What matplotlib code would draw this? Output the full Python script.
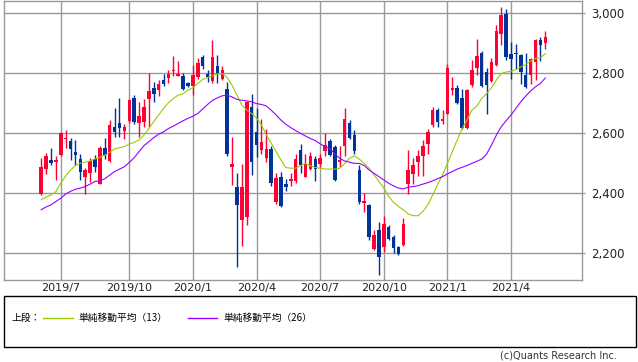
import numpy as np
import pandas as pd
import matplotlib
matplotlib.use("Agg")
import matplotlib.pyplot as plt
from matplotlib.patches import Rectangle
from matplotlib.lines import Line2D

# weekly candles
weeks = pd.date_range("2019-06-03", periods=104, freq="W-MON")

opens = [2398, 2481, 2510, 2505, 2527, 2580, 2573, 2537, 2514, 2455, 2468, 2513, 2432, 2550, 2507,
         2621, 2635, 2608, 2641, 2718, 2632, 2636, 2712, 2751, 2743, 2776, 2782, 2807, 2790, 2789,
         2765, 2756, 2787, 2852, 2796, 2773, 2824, 2780, 2745, 2488, 2420, 2309, 2319, 2685, 2603,
         2544, 2518, 2547, 2369, 2453, 2431, 2441, 2439, 2544, 2455, 2481, 2514, 2497, 2541, 2573,
         2555, 2505, 2558, 2634, 2593, 2477, 2367, 2361, 2214, 2276, 2221, 2289, 2254, 2222, 2227,
         2431, 2463, 2502, 2522, 2564, 2627, 2676, 2641, 2665, 2743, 2751, 2715, 2618, 2759, 2818,
         2866, 2803, 2773, 2825, 2930, 2997, 2864, 2867, 2859, 2792, 2792, 2836, 2908, 2899]
highs = [2518, 2533, 2550, 2525, 2604, 2610, 2585, 2577, 2529, 2483, 2516, 2527, 2558, 2585, 2643,
         2682, 2718, 2630, 2713, 2725, 2704, 2712, 2800, 2770, 2776, 2796, 2809, 2855, 2839, 2800,
         2770, 2825, 2851, 2861, 2811, 2910, 2859, 2824, 2769, 2588, 2467, 2497, 2708, 2731, 2682,
         2646, 2612, 2558, 2466, 2470, 2448, 2468, 2530, 2564, 2530, 2538, 2525, 2530, 2599, 2580,
         2560, 2557, 2684, 2643, 2610, 2492, 2402, 2365, 2278, 2303, 2325, 2293, 2262, 2225, 2317,
         2544, 2518, 2544, 2577, 2613, 2685, 2682, 2676, 2829, 2785, 2759, 2748, 2748, 2844, 2914,
         2872, 2818, 2851, 2958, 3021, 3013, 2903, 2897, 2864, 2867, 2851, 2914, 2919, 2938]
lows = [2394, 2464, 2492, 2444, 2525, 2549, 2510, 2492, 2444, 2398, 2438, 2470, 2430, 2514, 2505,
        2586, 2586, 2579, 2632, 2630, 2588, 2621, 2621, 2704, 2724, 2756, 2765, 2789, 2789, 2743,
        2754, 2726, 2780, 2812, 2770, 2767, 2767, 2776, 2525, 2428, 2154, 2225, 2293, 2459, 2519,
        2530, 2502, 2425, 2365, 2354, 2408, 2425, 2435, 2468, 2453, 2477, 2439, 2486, 2522, 2524,
        2441, 2488, 2522, 2579, 2530, 2365, 2336, 2243, 2210, 2127, 2203, 2243, 2201, 2195, 2223,
        2397, 2431, 2457, 2457, 2530, 2621, 2621, 2629, 2665, 2726, 2696, 2615, 2615, 2754, 2792,
        2754, 2663, 2770, 2822, 2892, 2842, 2779, 2814, 2762, 2751, 2762, 2778, 2840, 2881]
closes = [2488, 2525, 2500, 2510, 2601, 2585, 2548, 2528, 2470, 2477, 2507, 2488, 2550, 2527, 2627,
          2604, 2618, 2619, 2709, 2638, 2656, 2685, 2740, 2729, 2762, 2762, 2796, 2810, 2796, 2747,
          2756, 2792, 2833, 2823, 2785, 2852, 2799, 2811, 2530, 2497, 2359, 2420, 2704, 2504, 2561,
          2569, 2547, 2435, 2450, 2356, 2422, 2448, 2514, 2492, 2497, 2524, 2480, 2518, 2560, 2527,
          2444, 2510, 2646, 2585, 2541, 2372, 2375, 2253, 2262, 2188, 2297, 2247, 2218, 2197, 2298,
          2477, 2494, 2524, 2558, 2602, 2676, 2638, 2646, 2818, 2751, 2701, 2618, 2743, 2809, 2855,
          2757, 2759, 2835, 2938, 2994, 2853, 2846, 2864, 2803, 2754, 2848, 2908, 2892, 2919]

# moving averages as drawn (13 and 26 weeks)
ma13 = [2378, 2387, 2394, 2405, 2433, 2457, 2477, 2492, 2499, 2503, 2507, 2514, 2519, 2527, 2536,
        2547, 2551, 2555, 2564, 2569, 2577, 2593, 2615, 2638, 2660, 2682, 2701, 2715, 2726, 2731,
        2743, 2751, 2765, 2778, 2785, 2791, 2796, 2798, 2785, 2759, 2726, 2693, 2676, 2665, 2650,
        2627, 2593, 2566, 2538, 2510, 2485, 2483, 2483, 2492, 2499, 2491, 2485, 2483, 2480, 2480,
        2480, 2483, 2499, 2516, 2524, 2513, 2499, 2483, 2461, 2439, 2417, 2389, 2369, 2356, 2344,
        2331, 2325, 2325, 2339, 2361, 2394, 2428, 2461, 2499, 2538, 2577, 2615, 2643, 2676, 2689,
        2715, 2731, 2751, 2776, 2798, 2803, 2806, 2811, 2820, 2828, 2840, 2848, 2851, 2864]
ma26 = [2345, 2354, 2361, 2372, 2383, 2397, 2406, 2413, 2417, 2422, 2430, 2439, 2441, 2448, 2460,
        2472, 2480, 2488, 2502, 2518, 2538, 2558, 2571, 2585, 2596, 2604, 2615, 2623, 2632, 2641,
        2649, 2656, 2665, 2680, 2695, 2709, 2717, 2724, 2726, 2720, 2712, 2709, 2707, 2704, 2698,
        2695, 2690, 2676, 2660, 2643, 2629, 2618, 2608, 2599, 2590, 2582, 2575, 2564, 2555, 2549,
        2530, 2516, 2507, 2503, 2499, 2499, 2492, 2477, 2466, 2455, 2444, 2433, 2424, 2417, 2414,
        2420, 2422, 2425, 2430, 2435, 2441, 2448, 2455, 2464, 2472, 2480, 2486, 2492, 2499, 2506,
        2513, 2530, 2560, 2593, 2621, 2641, 2660, 2682, 2704, 2723, 2740, 2754, 2765, 2783]

y_ticks = [2200, 2400, 2600, 2800, 3000]

RED = "#ff0033"
BLUE = "#003399"
GREEN = "#99cc00"
PURPLE = "#9900ff"
GRID = "#999999"
JP = ["Noto Sans CJK JP", "DejaVu Sans"]

o = np.array(opens)
c = np.array(closes)
x = np.arange(len(weeks))
cols = np.where(c >= o, RED, BLUE)

fig = plt.figure(figsize=(6.38, 3.62), dpi=100)
ax = fig.add_axes([3.5 / 638, 82 / 362, 578.5 / 638, 279.5 / 362])

# candles
ax.vlines(x, lows, highs, colors=cols, linewidth=1.0, zorder=3)
body = np.maximum(np.abs(c - o), 3)
ax.bar(x, body, bottom=np.minimum(o, c), width=0.72, color=cols, linewidth=0, zorder=4)

ax.plot(x, ma13, color=GREEN, linewidth=0.8, zorder=5)
ax.plot(x, ma26, color=PURPLE, linewidth=0.8, zorder=5)

ax.set_xlim(-7.7, 110.5)
ax.set_ylim(2111, 3041)

# quarter ticks at first week of Jan/Apr/Jul/Oct
tick_pos = [i for i, d in enumerate(weeks) if d.month in (1, 4, 7, 10) and d.day <= 7]
ax.set_xticks(tick_pos)
ax.set_xticklabels([f"{weeks[i].year}/{weeks[i].month}" for i in tick_pos])
ax.set_yticks(y_ticks)
ax.set_yticklabels([f"{v:,}" for v in y_ticks])
ax.yaxis.tick_right()
ax.tick_params(axis="x", length=0, pad=2.5, labelsize=8, labelcolor="#222222")
ax.tick_params(axis="y", length=2.5, width=1, color=GRID, pad=4, labelsize=8.5, labelcolor="#222222")

ax.grid(True, color=GRID, linewidth=1.0)
ax.set_axisbelow(True)
for s in ax.spines.values():
    s.set_color(GRID)
    s.set_linewidth(1.0)

# legend box under the chart
fig.patches.append(Rectangle((3.5 / 638, 1 - 346.5 / 362), 632 / 638, 51 / 362,
                             transform=fig.transFigure, fill=False,
                             edgecolor="black", linewidth=1.0))
ly = 1 - 318 / 362
fig.text(12 / 638, ly, "上段：", fontsize=7, family=JP, va="center")
fig.add_artist(Line2D([43 / 638, 73 / 638], [ly, ly], color=GREEN, linewidth=1.0))
fig.text(78 / 638, ly, "単純移動平均（13）", fontsize=7, family=JP, va="center")
fig.add_artist(Line2D([188 / 638, 217 / 638], [ly, ly], color=PURPLE, linewidth=1.0))
fig.text(223 / 638, ly, "単純移動平均（26）", fontsize=7, family=JP, va="center")

fig.text(617 / 638, 1 - 356 / 362, "(c)Quants Research Inc.", fontsize=7,
         color="#333333", ha="right", va="center")

fig.savefig("out.png", dpi=100)
